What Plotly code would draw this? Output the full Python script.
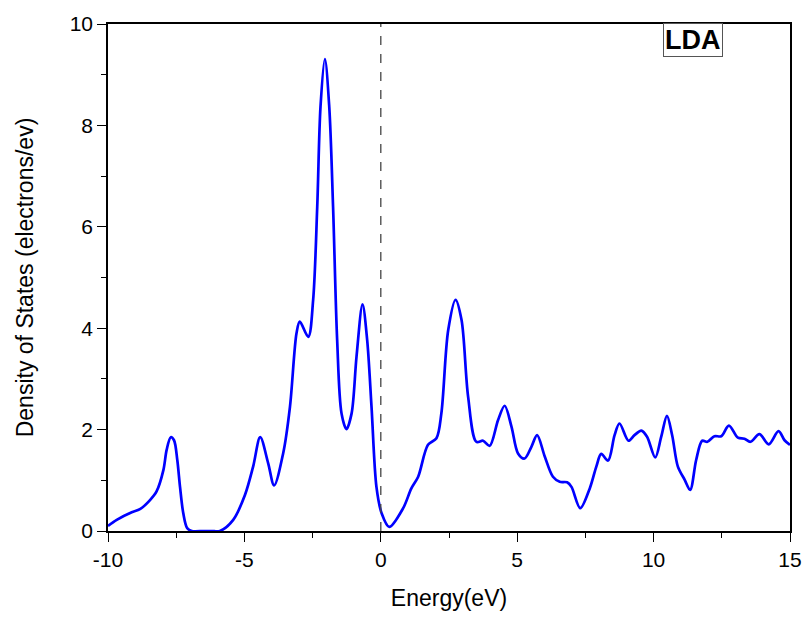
import plotly.graph_objects as go

# Total density of states (LDA), sampled along the energy axis
energy = [
    -10.0, -9.68, -9.13, -8.83, -8.46, -8.22, -7.97, -7.85, -7.70, -7.58, -7.46, -7.36,
    -7.24, -7.10, -6.93, -6.5, -6.2, -5.90, -5.41, -4.98, -4.68, -4.42, -4.13, -3.91,
    -3.58, -3.33, -3.09, -2.97, -2.66, -2.48, -2.33, -2.21, -2.05, -1.89, -1.75, -1.60,
    -1.44, -1.26, -1.07, -0.89, -0.67, -0.50, -0.34, -0.16, 0.03, 0.31, 0.82, 1.12,
    1.37, 1.73, 2.04, 2.22, 2.47, 2.74, 2.96, 3.20, 3.50, 3.75, 3.99, 4.30,
    4.54, 4.79, 5.03, 5.27, 5.52, 5.73, 6.01, 6.31, 6.56, 6.83, 6.99, 7.31,
    7.66, 7.90, 8.08, 8.33, 8.57, 8.75, 9.08, 9.30, 9.55, 9.76, 10.06, 10.28,
    10.49, 10.68, 10.89, 11.14, 11.34, 11.56, 11.78, 11.97, 12.23, 12.48, 12.76, 13.09,
    13.33, 13.55, 13.88, 14.22, 14.58, 14.80, 15.0,
]
dos = [
    0.10, 0.22, 0.37, 0.43, 0.61, 0.78, 1.20, 1.60, 1.85, 1.79, 1.40, 0.87,
    0.35, 0.06, 0.0, 0.0, 0.0, 0.0, 0.22, 0.71, 1.27, 1.85, 1.34, 0.90,
    1.53, 2.45, 3.90, 4.13, 3.83, 4.56, 6.40, 8.37, 9.31, 8.37, 6.40, 3.77,
    2.32, 2.01, 2.32, 3.44, 4.47, 3.77, 2.45, 0.87, 0.35, 0.08, 0.45, 0.84,
    1.07, 1.70, 1.83, 2.32, 3.96, 4.56, 4.16, 2.65, 1.76, 1.78, 1.68, 2.19,
    2.47, 2.06, 1.53, 1.43, 1.66, 1.89, 1.47, 1.07, 0.97, 0.96, 0.87, 0.45,
    0.84, 1.27, 1.52, 1.39, 1.89, 2.12, 1.78, 1.89, 1.98, 1.86, 1.45, 1.86,
    2.27, 1.89, 1.27, 1.01, 0.81, 1.40, 1.78, 1.76, 1.87, 1.87, 2.08, 1.84,
    1.82, 1.76, 1.91, 1.71, 1.97, 1.79, 1.70,
]

x_ticks = [-10, -5, 0, 5, 10, 15]
y_ticks = [0, 2, 4, 6, 8, 10]
fermi_level = 0.0
label = "LDA"

font_family = "Liberation Sans, Arial, sans-serif"

fig = go.Figure()
fig.add_trace(go.Scatter(
    x=energy, y=dos, mode="lines",
    line=dict(color="#0000ff", width=2.7, shape="spline", smoothing=0.9),
    showlegend=False, hoverinfo="x+y",
))

# Fermi level marker
fig.add_shape(type="line", xref="x", yref="y",
              x0=fermi_level, x1=fermi_level, y0=0, y1=10,
              line=dict(color="#444444", width=1.3, dash="dash"))

fig.add_annotation(
    x=0.858, y=1.002, xref="paper", yref="paper", xanchor="center", yanchor="top",
    text="<b>" + label + "</b>", showarrow=False,
    font=dict(family=font_family, size=27, color="black"),
    bordercolor="#555555", borderwidth=1, borderpad=1, bgcolor="white",
)

axis_common = dict(
    showline=True, linecolor="black", linewidth=1.6, mirror=True,
    ticks="outside", tickcolor="black", tickwidth=1.4, ticklen=9,
    showgrid=False, zeroline=False, automargin=False,
    tickfont=dict(family=font_family, size=21, color="black"),
)

fig.update_xaxes(
    range=[-10, 15], tickvals=x_ticks, ticktext=[str(v) for v in x_ticks],
    minor=dict(ticks="outside", dtick=2.5, tick0=0, ticklen=5, tickwidth=1.4, tickcolor="black"),
    title=dict(text="Energy(eV)", font=dict(family=font_family, size=23, color="black"), standoff=20),
    **axis_common,
)
fig.update_yaxes(
    range=[0, 10], tickvals=y_ticks, ticktext=[str(v) for v in y_ticks],
    minor=dict(ticks="outside", dtick=1, tick0=0, ticklen=5, tickwidth=1.4, tickcolor="black"),
    title=dict(text="Density of States (electrons/ev)", font=dict(family=font_family, size=23, color="black"), standoff=30),
    **axis_common,
)

fig.update_layout(
    width=803, height=617,
    margin=dict(l=108, r=13, t=24, b=86),
    paper_bgcolor="white", plot_bgcolor="white",
)

fig.write_html("out.html")
